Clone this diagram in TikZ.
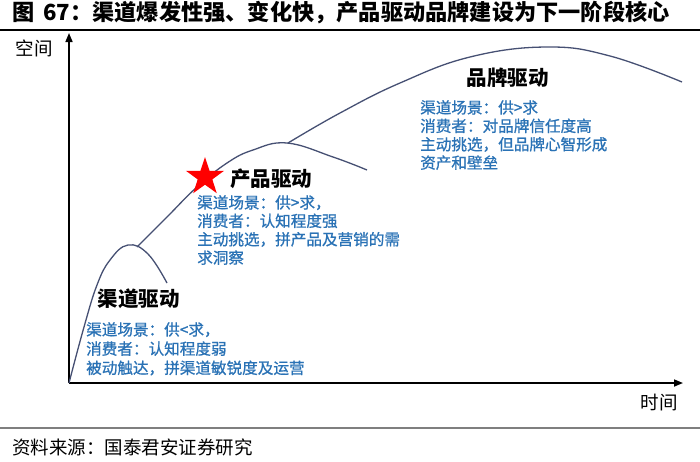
\documentclass[tikz,border=0pt]{standalone}
\usepackage{fontspec}
\setmainfont{Noto Sans CJK SC}
\newfontfamily\notefont[FakeBold=0.9]{Noto Sans CJK SC}
\usepackage{tikz}
\usetikzlibrary{positioning, arrows.meta, shapes.geometric}
\definecolor{cBlue}{HTML}{2A72B5}
\definecolor{cCurve}{HTML}{465073}
\definecolor{cGray}{HTML}{7F7F7F}

\begin{document}
\begin{tikzpicture}[
  x=1pt, y=-1pt,
  stage/.style={font=\fontsize{20.5}{24}\selectfont\bfseries, inner sep=0pt, anchor=center},
  note/.style={font=\notefont\fontsize{15.6}{18.4}\selectfont, text=cBlue, inner sep=0pt, anchor=north west, align=left},
  axis/.style={line width=1.6pt, -{Triangle[length=9pt, width=7pt]}},
  curve/.style={cCurve, line width=1.3pt},
  lbl/.style={font=\fontsize{18.5}{22}\selectfont, inner sep=0pt},
]
  \useasboundingbox (0,0) rectangle (700,461);

  % title and source
  \node[font=\fontsize{22.2}{26}\selectfont\bfseries, anchor=west, inner sep=0pt] (title) at (12,13)
    {图\, 67：渠道爆发性强、变化快，产品驱动品牌建设为下一阶段核心};
  \draw[line width=1.3pt] (0,30) -- (700,30);
  \draw[cGray, line width=2pt] (0,428) -- (700,428);
  \node[lbl, anchor=west] (source) at (12,447) {资料来源：国泰君安证券研究};

  % axes
  \coordinate (o) at (69,383);
  \coordinate (ytip) at (69,33);
  \coordinate (xtip) at (683,383);
  \draw[axis] (o) -- (ytip);
  \draw[axis] (o) -- (xtip);
  \node[lbl] (space) at (34.5,48) {空间};
  \node[lbl] (time) at (659,403) {时间};

  % curves
  \draw[curve] plot[smooth, tension=0.7] coordinates
    {(69,383) (84,327) (97,285) (110,260) (128,245) (148,254) (167,283)};
  \draw[curve] plot[smooth, tension=0.7] coordinates
    {(137,247) (167,217) (197,187) (227,163) (253,150) (287,143) (333,157) (367,170)};
  \draw[curve] plot[smooth, tension=0.7] coordinates
    {(288,143) (340,113) (400,83) (470,57) (547,47) (610,56) (682,82)};

  \node[star, star points=5, star point ratio=2.6, fill=red, minimum size=40pt, inner sep=0pt] (mark) at (205,177) {};

  % stages
  \node[stage] (channel) at (138.5,299) {渠道驱动};
  \node[note, font=\notefont\fontsize{15.6}{19.2}\selectfont] (channelNote) at (86,322)
    {渠道场景：供<求，\\消费者：认知程度弱\\被动触达，拼渠道敏锐度及运营};
  \node[stage] (product) at (271,179) {产品驱动};
  \node[note] (productNote) at (197,195)
    {渠道场景：供>求，\\消费者：认知程度强\\主动挑选，拼产品及营销的需\\求洞察};
  \node[stage] (brand) at (507.5,78) {品牌驱动};
  \node[note] (brandNote) at (420,100)
    {渠道场景：供>求\\消费者：对品牌信任度高\\主动挑选，但品牌心智形成\\资产和壁垒};
\end{tikzpicture}
\end{document}
